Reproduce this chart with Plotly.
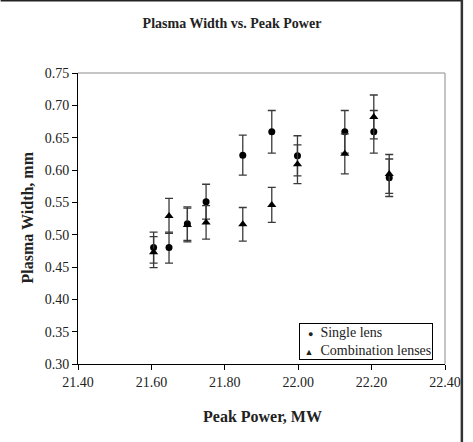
import plotly.graph_objects as go

# Data
peak_power = [21.606, 21.648, 21.698, 21.749, 21.849, 21.928, 21.998, 22.127, 22.206, 22.248]
single_lens = [0.480, 0.480, 0.517, 0.551, 0.623, 0.659, 0.622, 0.659, 0.659, 0.588]
single_err = [0.024, 0.024, 0.026, 0.027, 0.031, 0.033, 0.031, 0.033, 0.033, 0.029]
combo_lenses = [0.473, 0.529, 0.515, 0.519, 0.516, 0.546, 0.609, 0.625, 0.682, 0.594]
combo_err = [0.024, 0.027, 0.026, 0.026, 0.026, 0.027, 0.030, 0.031, 0.034, 0.030]

series_names = ["Single lens", "Combination lenses"]
x_ticks = [21.40, 21.60, 21.80, 22.00, 22.20, 22.40]
y_ticks = [0.30, 0.35, 0.40, 0.45, 0.50, 0.55, 0.60, 0.65, 0.70, 0.75]

FONT = "Liberation Serif"
W, H = 473, 442
L, R, T, B = 78, 25, 73, 78
pw, ph = W - L - R, H - T - B

fig = go.Figure()
fig.add_trace(go.Scatter(
    x=peak_power, y=single_lens, mode="markers", name=series_names[0],
    marker=dict(symbol="circle", size=7, color="black"),
    error_y=dict(type="data", array=single_err, visible=True,
                 color="#3a3a3a", thickness=1.3, width=4),
))
fig.add_trace(go.Scatter(
    x=peak_power, y=combo_lenses, mode="markers", name=series_names[1],
    marker=dict(symbol="triangle-up", size=8, color="black"),
    error_y=dict(type="data", array=combo_err, visible=True,
                 color="#3a3a3a", thickness=1.3, width=4),
))

axis_common = dict(
    showgrid=False, zeroline=False, showline=True, linecolor="black", linewidth=1,
    ticks="outside", ticklen=5, tickcolor="black", tickwidth=1,
    tickfont=dict(family=FONT, size=14, color="#222"),
)
fig.update_xaxes(range=[21.4, 22.4], tickvals=x_ticks,
                 ticktext=[f"{v:.2f}" for v in x_ticks], **axis_common)
fig.update_yaxes(range=[0.3, 0.75], tickvals=y_ticks,
                 ticktext=[f"{v:.2f}" for v in y_ticks], **axis_common)

# plot area top/right gray border and outer frame lines
shapes = [
    dict(type="line", xref="paper", yref="paper", x0=0, x1=1, y0=1, y1=1,
         line=dict(color="#8c8c8c", width=1)),
    dict(type="line", xref="paper", yref="paper", x0=1, x1=1, y0=0, y1=1,
         line=dict(color="#b0b0b0", width=1.5)),
    dict(type="line", xref="paper", yref="paper", x0=-L / pw, x1=(465 - L) / pw,
         y0=1 + (T - 0.5) / ph, y1=1 + (T - 0.5) / ph, line=dict(color="#222", width=2)),
    dict(type="line", xref="paper", yref="paper", x0=(465 - L) / pw, x1=(465 - L) / pw,
         y0=1 + T / ph, y1=-B / ph, line=dict(color="#333", width=2.5)),
]

sym = "<span style='font-size:9px'>%s</span>"
legend_text = ("&nbsp;&nbsp;" + sym % "●" + "&nbsp;&nbsp;" + series_names[0] + "<br>"
               + "&nbsp;" + sym % "▲" + "&nbsp;&nbsp;" + series_names[1])

annotations = [
    dict(text="<b>Peak Power, MW</b>", xref="paper", yref="paper",
         x=(264 - L) / pw, y=-(416 - (T + ph)) / ph, showarrow=False,
         xanchor="center", yanchor="middle", font=dict(family=FONT, size=16, color="#222")),
    dict(text="<b>Plasma Width, mm</b>", xref="paper", yref="paper",
         x=(27 - L) / pw, y=1 - (217 - T) / ph, showarrow=False, textangle=-90,
         xanchor="center", yanchor="middle", font=dict(family=FONT, size=16, color="#222")),
    dict(text=legend_text, xref="paper", yref="paper",
         x=(436 - L) / pw, y=(364 - 360) / ph, xanchor="right", yanchor="bottom",
         align="left", showarrow=False, bordercolor="black", borderwidth=1,
         borderpad=1, bgcolor="white", font=dict(family=FONT, size=14, color="#222")),
]

fig.update_layout(
    width=W, height=H, autosize=False,
    margin=dict(l=L, r=R, t=T, b=B),
    paper_bgcolor="white", plot_bgcolor="white",
    title=dict(text="<b>Plasma Width vs. Peak Power</b>", x=232 / W, xanchor="center",
               y=1 - 23 / H, yanchor="middle", font=dict(family=FONT, size=14, color="#222")),
    showlegend=False,
    shapes=shapes, annotations=annotations,
)

fig.write_html("out.html")
